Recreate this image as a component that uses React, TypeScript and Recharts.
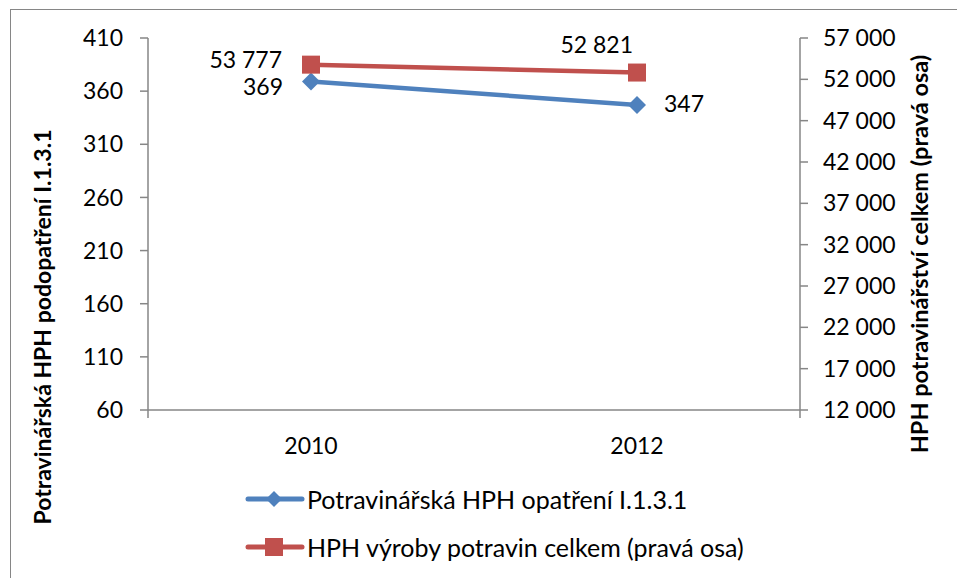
import { LineChart, Line, XAxis, YAxis, Legend, LabelList } from 'recharts';

const years = ['2010', '2012'];
const potravinarskaHph = [369, 347];
const hphVyrobyCelkem = [53777, 52821];
const leftTicks = [60, 110, 160, 210, 260, 310, 360, 410];
const rightTicks = [12000, 17000, 22000, 27000, 32000, 37000, 42000, 47000, 52000, 57000];
const edgeTicks = [0, 1, 2];

const seriesNames = ['Potravinářská HPH opatření I.1.3.1', 'HPH výroby potravin celkem (pravá osa)'];
const leftTitle = 'Potravinářská HPH podopatření I.1.3.1';
const rightTitle = 'HPH potravinářství celkem (pravá osa)';

const data = years.map((year, i) => ({
  year,
  hph: potravinarskaHph[i],
  celkem: hphVyrobyCelkem[i],
}));

const BLUE = '#4F81BD';
const RED = '#C0504D';
const AXIS = '#868686';
const FONT = 'Lato, "Open Sans", sans-serif';
const FS = 23;

const fmt = (n: number) => String(n).replace(/\B(?=(\d{3})+(?!\d))/g, ' ');

const Diamond = (props: any) => {
  const { cx, cy } = props;
  if (cx == null || cy == null) return null;
  const r = 9;
  return <polygon points={`${cx},${cy - r} ${cx + r},${cy} ${cx},${cy + r} ${cx - r},${cy}`} fill={BLUE} />;
};

const Square = (props: any) => {
  const { cx, cy } = props;
  if (cx == null || cy == null) return null;
  return <rect x={cx - 9} y={cy - 9} width={18} height={18} fill={RED} />;
};

const blueLabel = (props: any) => {
  const { x, y, value, index } = props;
  const left = index === 0;
  return (
    <text x={left ? x - 28 : x + 27} y={left ? y + 8 : y + 1} textAnchor={left ? 'end' : 'start'}
      dominantBaseline="middle" fontFamily={FONT} fontSize={FS} fill="#000">
      {fmt(value)}
    </text>
  );
};

const redLabel = (props: any) => {
  const { x, y, value, index } = props;
  const first = index === 0;
  return (
    <text x={first ? x - 29 : x - 4} y={first ? y - 2 : y - 25} textAnchor="end"
      dominantBaseline="middle" fontFamily={FONT} fontSize={FS} fill="#000">
      {fmt(value)}
    </text>
  );
};

const LegendContent = () => (
  <div style={{ fontFamily: FONT, fontSize: 25, color: '#000' }}>
    {seriesNames.map((name, i) => (
      <div key={name} style={{ display: 'flex', alignItems: 'center', height: 48 }}>
        <svg width={60} height={24} style={{ marginRight: 2 }}>
          <line x1={3} y1={12} x2={57} y2={12} stroke={i === 0 ? BLUE : RED} strokeWidth={5} strokeLinecap="round" />
          {i === 0 ? (
            <polygon points="29,4 37,12 29,20 21,12" fill={BLUE} />
          ) : (
            <rect x={20} y={3} width={18} height={18} fill={RED} />
          )}
        </svg>
        <span>{name}</span>
      </div>
    ))}
  </div>
);

const NoTick = () => <g />;

export default function App() {
  return (
    <div style={{ position: 'absolute', left: 0, top: 0, width: 957, height: 578, overflow: 'hidden', background: '#fff' }}>
      <div style={{ position: 'absolute', left: 10, top: 9, width: 1200, height: 1200, borderLeft: `1.5px solid ${AXIS}`, borderTop: `1.5px solid ${AXIS}` }} />
      <div style={{ position: 'absolute', left: 0, top: 0 }}>
        <LineChart width={957} height={578} data={data} margin={{ top: 38, right: 0, left: 0, bottom: 107 }}>
          <XAxis xAxisId="edges" type="number" domain={[0, 2]} ticks={edgeTicks} tick={<NoTick />}
            height={1} tickSize={8} stroke={AXIS} strokeWidth={1.5} allowDataOverflow />
          <XAxis xAxisId="years" dataKey="year" scale="band" height={60} axisLine={false} tickLine={false}
            tickMargin={21} tick={{ fill: '#000', fontFamily: FONT, fontSize: FS }} />
          <YAxis yAxisId="left" domain={[60, 410]} ticks={leftTicks} width={148} tickSize={8} tickMargin={17}
            stroke={AXIS} strokeWidth={1.5} allowDataOverflow
            tick={{ fill: '#000', fontFamily: FONT, fontSize: FS }}
            label={{
              content: () => (
                <text x={45} y={327} transform="rotate(-90 45 327)" textAnchor="middle" dominantBaseline="middle"
                  fontFamily={FONT} fontSize={23} fontWeight="bold" fill="#000">{leftTitle}</text>
              ),
            }} />
          <YAxis yAxisId="right" orientation="right" domain={[12000, 57000]} ticks={rightTicks} width={157}
            tickSize={8} tickMargin={15} stroke={AXIS} strokeWidth={1.5} allowDataOverflow tickFormatter={fmt}
            tick={{ fill: '#000', fontFamily: FONT, fontSize: FS }}
            label={{
              content: () => (
                <text x={922} y={254} transform="rotate(-90 922 254)" textAnchor="middle" dominantBaseline="middle"
                  fontFamily={FONT} fontSize={23.5} fontWeight="bold" fill="#000">{rightTitle}</text>
              ),
            }} />
          <Legend layout="vertical" align="center" verticalAlign="middle" content={<LegendContent />}
            wrapperStyle={{ left: 245, top: 475, width: 650, height: 100 }} />
          <Line xAxisId="years" yAxisId="left" dataKey="hph" name={seriesNames[0]} stroke={BLUE} strokeWidth={4.5}
            dot={<Diamond />} activeDot={false} isAnimationActive={false}>
            <LabelList dataKey="hph" content={blueLabel} />
          </Line>
          <Line xAxisId="years" yAxisId="right" dataKey="celkem" name={seriesNames[1]} stroke={RED} strokeWidth={4.5}
            dot={<Square />} activeDot={false} isAnimationActive={false}>
            <LabelList dataKey="celkem" content={redLabel} />
          </Line>
        </LineChart>
      </div>
    </div>
  );
}
